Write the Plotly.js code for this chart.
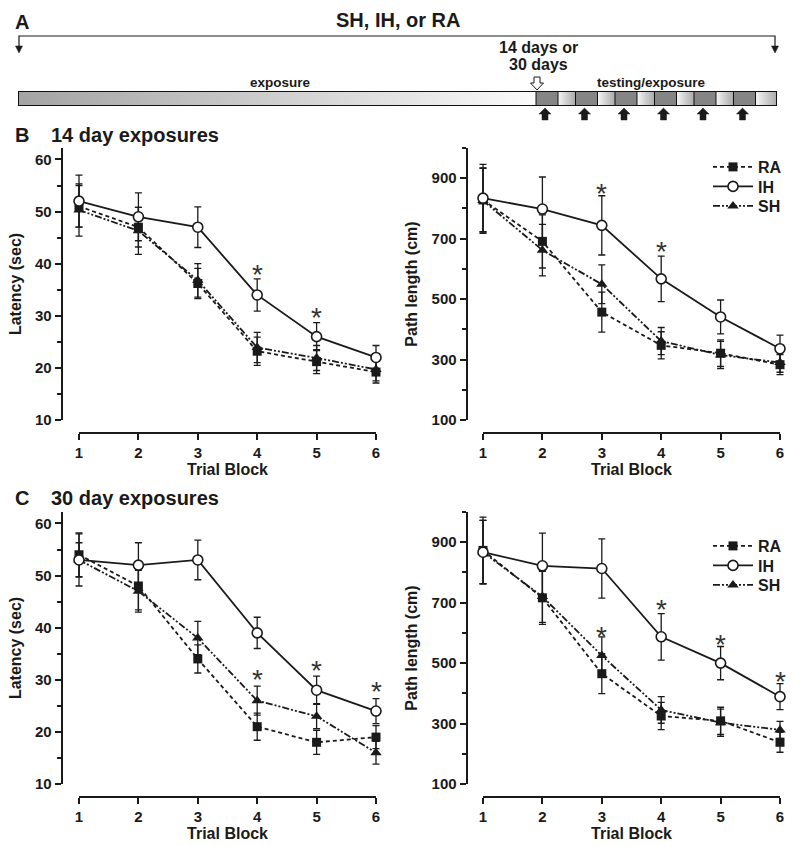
<!DOCTYPE html>
<html><head><meta charset="utf-8">
<script src="https://cdn.plot.ly/plotly-3.0.1.min.js"></script>
<style>html,body{margin:0;padding:0;background:#fff}#chart{width:800px;height:846px}</style>
</head><body><div id="chart"></div>
<script>
// ---------------- DATA ----------------
const trialBlocks = [1, 2, 3, 4, 5, 6];
const groupNames = ['RA', 'IH', 'SH'];

// B: 14 day exposures - latency (sec)
const lat14_RA = [51, 47, 36.2, 23.2, 21.2, 19.2];
const lat14_RA_err = [4, 3.8, 2.9, 2.7, 2.3, 2.1];
const lat14_IH = [52, 49, 47, 34, 26, 22];
const lat14_IH_err = [5, 4.6, 3.9, 3.1, 2.7, 2.3];
const lat14_SH = [50.3, 46.3, 36.8, 23.9, 21.9, 19.7];
const lat14_SH_err = [5, 4.5, 3.2, 2.9, 2.4, 2.2];
const lat14_starX = [4, 5];
const lat14_starY = [39.5, 31.2];

// B: 14 day exposures - path length (cm)
const path14_RA = [828, 691, 457, 347, 321, 283];
const path14_RA_err = [105, 88, 66, 45, 44, 33];
const path14_IH = [834, 798, 744, 567, 441, 336];
const path14_IH_err = [112, 106, 98, 75, 56, 45];
const path14_SH = [826, 662, 549, 361, 315, 290];
const path14_SH_err = [108, 85, 64, 45, 45, 32];
const path14_starX = [3, 4];
const path14_starY = [875, 684];

// C: 30 day exposures - latency (sec)
const lat30_RA = [54, 48, 34, 21, 18, 19];
const lat30_RA_err = [4.2, 4.6, 2.7, 2.6, 2.3, 2.2];
const lat30_IH = [53, 52, 53, 39, 28, 24];
const lat30_IH_err = [3.3, 4.3, 3.8, 3.0, 2.7, 2.4];
const lat30_SH = [53, 47, 38, 26, 23, 16];
const lat30_SH_err = [5, 4, 3.2, 2.8, 2.4, 2.2];
const lat30_starX = [4, 5, 6];
const lat30_starY = [31.5, 33.4, 29.2];

// C: 30 day exposures - path length (cm)
const path30_RA = [873, 716, 465, 325, 309, 238];
const path30_RA_err = [110, 88, 66, 45, 45, 33];
const path30_IH = [867, 822, 813, 587, 500, 389];
const path30_IH_err = [105, 108, 98, 77, 55, 43];
const path30_SH = [867, 720, 525, 345, 303, 279];
const path30_SH_err = [105, 85, 62, 44, 45, 28];
const path30_starX = [3, 4, 5, 6];
const path30_starY = [613, 703, 587, 465];

// ---------------- LAYOUT HELPERS ----------------
const W = 800, H = 846;
const px = x => x / W;
const py = y => 1 - y / H;
const FONT = 'Liberation Sans, Arial, Helvetica, sans-serif';
const INK = '#1a1a1a';

const styles = {
  RA: {line: {color: INK, width: 1.8, dash: '4px,3px'},
       marker: {symbol: 'square', size: 9, color: INK}},
  IH: {line: {color: INK, width: 1.8, dash: 'solid'},
       marker: {symbol: 'circle', size: 10, color: '#ffffff', line: {color: INK, width: 1.6}}},
  SH: {line: {color: INK, width: 1.8, dash: '7px,2px,2px,2px,2px,2px'},
       marker: {symbol: 'triangle-up', size: 10, color: INK}}
};
const legendRow = {RA: 0, IH: 1, SH: 2};

const panels = [
  {xa: 'x', ya: 'y', ta: 'x5', left: 63, right: 392, t1: 79, t6: 376, top: 148, bottom: 420, tickY: 433,
   range: [10, 62.2], major: [10, 10], minor: [5, 5], title: 'Latency (sec)', legendTop: null, legendBase: 0,
   data: {RA: [lat14_RA, lat14_RA_err], IH: [lat14_IH, lat14_IH_err], SH: [lat14_SH, lat14_SH_err]},
   stars: [lat14_starX, lat14_starY]},
  {xa: 'x2', ya: 'y2', ta: 'x6', left: 468, right: 797, t1: 483, t6: 780, top: 148, bottom: 420, tickY: 433,
   range: [100, 1000], major: [100, 200], minor: [0, 100], title: 'Path length (cm)', legendTop: 167, legendBase: 1,
   data: {RA: [path14_RA, path14_RA_err], IH: [path14_IH, path14_IH_err], SH: [path14_SH, path14_SH_err]},
   stars: [path14_starX, path14_starY]},
  {xa: 'x3', ya: 'y3', ta: 'x7', left: 63, right: 392, t1: 79, t6: 376, top: 512, bottom: 784, tickY: 797,
   range: [10, 62.2], major: [10, 10], minor: [5, 5], title: 'Latency (sec)', legendTop: null, legendBase: 0,
   data: {RA: [lat30_RA, lat30_RA_err], IH: [lat30_IH, lat30_IH_err], SH: [lat30_SH, lat30_SH_err]},
   stars: [lat30_starX, lat30_starY]},
  {xa: 'x4', ya: 'y4', ta: 'x8', left: 468, right: 797, t1: 483, t6: 780, top: 512, bottom: 784, tickY: 797,
   range: [100, 1000], major: [100, 200], minor: [0, 100], title: 'Path length (cm)', legendTop: 546, legendBase: 4,
   data: {RA: [path30_RA, path30_RA_err], IH: [path30_IH, path30_IH_err], SH: [path30_SH, path30_SH_err]},
   stars: [path30_starX, path30_starY]}
];

const traces = [];
const layout = {
  width: W, height: H,
  margin: {l: 0, r: 0, t: 0, b: 0},
  paper_bgcolor: '#ffffff', plot_bgcolor: 'rgba(0,0,0,0)',
  font: {family: FONT, color: INK},
  showlegend: true,
  annotations: [], shapes: [], images: []
};

const tickFont = {family: FONT, size: 15, weight: 'bold', color: INK};
const titleFont = {family: FONT, size: 16, weight: 'bold', color: INK};
const legendStyle = {xanchor: 'left', yanchor: 'middle', bgcolor: 'rgba(0,0,0,0)', borderwidth: 0,
  tracegroupgap: 0, itemwidth: 40, font: {family: FONT, size: 16, weight: 'bold', color: INK}};
const legendGap = 19.5;

panels.forEach(p => {
  const unit = (p.t6 - p.t1) / 5;
  const xr = [1 - (p.t1 - p.left) / unit, 6 + (p.right - p.t6) / unit];
  const xk = p.xa.replace('x', 'xaxis'), yk = p.ya.replace('y', 'yaxis'), tk = p.ta.replace('x', 'xaxis');
  layout[xk] = {domain: [px(p.left), px(p.right)], range: xr, anchor: p.ya, visible: false, fixedrange: true};
  layout[yk] = {
    domain: [py(p.bottom), py(p.top)], range: p.range, anchor: p.xa,
    showline: true, linewidth: 2.4, linecolor: INK, mirror: false,
    ticks: 'outside', ticklen: 6, tickwidth: 2, tickcolor: INK,
    tick0: p.major[0], dtick: p.major[1],
    minor: {tick0: p.minor[0], dtick: p.minor[1], ticks: 'outside', ticklen: 4, tickwidth: 2, tickcolor: INK, showgrid: false},
    showgrid: false, zeroline: false, tickfont: tickFont,
    title: {text: p.title, font: titleFont, standoff: 10}, fixedrange: true
  };
  layout[tk] = {
    domain: [px(p.t1), px(p.t6)], range: [1, 6], anchor: 'free', position: py(p.tickY),
    showline: true, linewidth: 2.4, linecolor: INK,
    ticks: 'outside', ticklen: 6, tickwidth: 2, tickcolor: INK,
    tickmode: 'array', tickvals: trialBlocks, ticktext: trialBlocks.map(String),
    showgrid: false, zeroline: false, tickfont: tickFont,
    title: {text: 'Trial Block', font: titleFont, standoff: 2}, fixedrange: true
  };
  // dummy trace so the tick-only axis is built
  traces.push({type: 'scatter', mode: 'markers', x: [null], y: [null], xaxis: p.ta, yaxis: p.ya,
               showlegend: false, hoverinfo: 'skip'});
  ['RA', 'SH', 'IH'].forEach(g => {
    const [vals, errs] = p.data[g];
    const tr = {
      type: 'scatter', mode: 'lines+markers', name: g,
      x: trialBlocks, y: vals, xaxis: p.xa, yaxis: p.ya,
      line: styles[g].line, marker: styles[g].marker,
      error_y: {type: 'data', array: errs, visible: true, color: INK, thickness: 1.3, width: 3.5},
      showlegend: p.legendTop !== null, cliponaxis: false
    };
    if (p.legendTop !== null) {
      const idx = p.legendBase + legendRow[g];
      const key = idx === 1 ? 'legend' : 'legend' + idx;
      tr.legend = key;
      layout[key] = Object.assign({x: px(708), y: py(p.legendTop + legendRow[g] * legendGap)}, legendStyle);
    }
    traces.push(tr);
  });
  p.stars[0].forEach((sx, i) => {
    layout.annotations.push({xref: p.xa, yref: p.ya, x: sx, y: p.stars[1][i], text: '*',
      showarrow: false, yshift: -8, font: {family: FONT, size: 28, color: '#333333'}});
  });
});

// ---------------- PANEL A (schematic) ----------------
const ann = (x, y, text, size, opts) => Object.assign({xref: 'paper', yref: 'paper', x: px(x), y: py(y), text,
  showarrow: false, xanchor: 'center', yanchor: 'middle', font: {family: FONT, size, weight: 'bold', color: INK}}, opts || {});
layout.annotations.push(ann(13, 22, 'A', 20, {xanchor: 'left'}));
layout.annotations.push(ann(398, 20, 'SH, IH, or RA', 20));
layout.annotations.push(ann(538, 47, '14 days or', 16));
layout.annotations.push(ann(538, 65, '30 days', 16));
layout.annotations.push(ann(280, 82, 'exposure', 13.5));
layout.annotations.push(ann(651, 82, 'testing/exposure', 13.5));
layout.annotations.push(ann(13, 135, 'B', 20, {xanchor: 'left'}));
layout.annotations.push(ann(49, 135, '14 day exposures', 20, {xanchor: 'left'}));
layout.annotations.push(ann(13, 498, 'C', 20, {xanchor: 'left'}));
layout.annotations.push(ann(49, 498, '30 day exposures', 20, {xanchor: 'left'}));

const P = (x, y) => `${px(x).toFixed(5)},${py(y).toFixed(5)}`;
const pathShape = (d, fill, lw) => ({type: 'path', xref: 'paper', yref: 'paper', path: d,
  fillcolor: fill, line: {color: INK, width: lw}});
// bracket
const brL = 19, brR = 775, brY = 36;
layout.shapes.push(pathShape(`M${P(brL, brY + 11)} L${P(brL, brY)} L${P(brR, brY)} L${P(brR, brY + 11)}`, 'rgba(0,0,0,0)', 1.2));
[brL, brR].forEach(x => layout.shapes.push(pathShape(`M${P(x - 3.5, brY + 10)} L${P(x + 3.5, brY + 10)} L${P(x, brY + 17)} Z`, INK, 0.5)));
// open arrow at the end of exposure
const oa = 537;
layout.shapes.push(pathShape(`M${P(oa - 3, 77)} L${P(oa + 3, 77)} L${P(oa + 3, 83)} L${P(oa + 6.5, 83)} L${P(oa, 90)} L${P(oa - 6.5, 83)} L${P(oa - 3, 83)} Z`, '#ffffff', 1));

// gradient bar drawn as an embedded SVG image
const barL = 18, barR = 777, barT = 91, barB = 106, split = 536, blockStep = 39.5, blockW = 22, nBlocks = 6;
const bw = barR - barL, bh = barB - barT;
let svg = `<svg xmlns='http://www.w3.org/2000/svg' width='${bw}' height='${bh}' viewBox='0 0 ${bw} ${bh}' preserveAspectRatio='none'>` +
  `<defs><linearGradient id='g0' x1='0' x2='1' y1='0' y2='0'><stop offset='0' stop-color='#a3a3a3'/><stop offset='1' stop-color='#fbfbfb'/></linearGradient>` +
  `<linearGradient id='g1' x1='0' x2='1' y1='0' y2='0'><stop offset='0' stop-color='#f6f6f6'/><stop offset='1' stop-color='#a9a9a9'/></linearGradient></defs>` +
  `<rect x='0' y='0' width='${split - barL}' height='${bh}' fill='url(#g0)'/>`;
for (let i = 0; i < nBlocks; i++) {
  const s = split - barL + i * blockStep, e = s + blockW, nx = i < nBlocks - 1 ? s + blockStep : bw;
  svg += `<rect x='${s}' y='0' width='${blockW}' height='${bh}' fill='#858585'/>`;
  svg += `<rect x='${e}' y='0' width='${nx - e}' height='${bh}' fill='url(#g1)'/>`;
  svg += `<line x1='${s}' y1='0' x2='${s}' y2='${bh}' stroke='#111' stroke-width='1'/>`;
  svg += `<line x1='${e}' y1='0' x2='${e}' y2='${bh}' stroke='#111' stroke-width='1'/>`;
}
svg += `<rect x='0.5' y='0.5' width='${bw - 1}' height='${bh - 1}' fill='none' stroke='#111' stroke-width='1'/></svg>`;
layout.images.push({source: 'data:image/svg+xml;charset=utf-8,' + encodeURIComponent(svg),
  xref: 'paper', yref: 'paper', x: px(barL), y: py(barT), sizex: bw / W, sizey: bh / H,
  xanchor: 'left', yanchor: 'top', sizing: 'stretch', layer: 'above'});

// black testing arrows under each testing block
for (let i = 0; i < nBlocks; i++) {
  const cx = split + i * blockStep + blockW / 2 - 2;
  layout.shapes.push(pathShape(`M${P(cx, 108)} L${P(cx + 6, 114)} L${P(cx + 3, 114)} L${P(cx + 3, 120)} L${P(cx - 3, 120)} L${P(cx - 3, 114)} L${P(cx - 6, 114)} Z`, INK, 0.5));
}

Plotly.newPlot('chart', traces, layout, {staticPlot: true, displayModeBar: false});
</script></body></html>
